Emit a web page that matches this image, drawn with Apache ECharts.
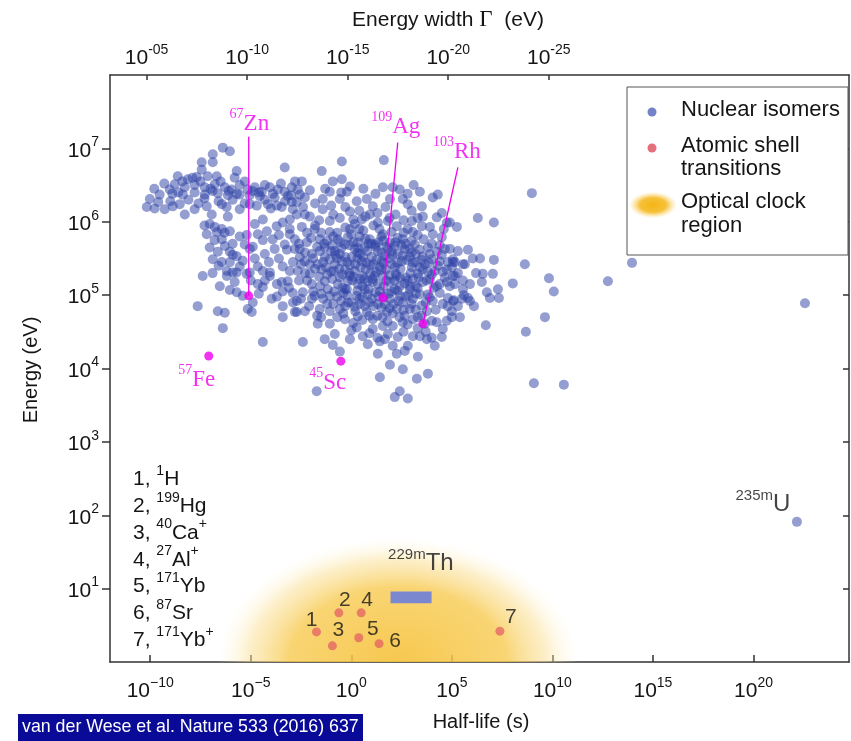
<!DOCTYPE html>
<html><head><meta charset="utf-8">
<script src="https://cdn.jsdelivr.net/npm/echarts/dist/echarts.min.js"></script>
<style>html,body{margin:0;padding:0;background:#fff}#c{width:851px;height:741px}</style>
</head><body><div id="c"></div>
<script>
// ---- data (all values are log10 of half-life in s / energy in eV) ----
const halfLifeTicks = [-10, -5, 0, 5, 10, 15, 20];
const energyTicks = [1, 2, 3, 4, 5, 6, 7];
const widthTicks = [-5, -10, -15, -20, -25];
const LOG_HBAR = -15.18; // log10(hbar in eV s): Gamma = hbar / t

const isomers = [
[-6.39,7.01],[-6.04,6.96],[-6.89,6.92],[-7.44,6.81],[-6.89,6.81],[-7.44,6.71],[-5.70,6.69],[-3.31,6.74],
[-8.63,6.62],[-8.13,6.58],[-7.69,6.61],[-7.14,6.62],[-6.69,6.62],[-8.78,6.51],[-8.28,6.47],[-7.79,6.50],
[-7.29,6.47],[-6.79,6.51],[-6.29,6.47],[-5.95,6.44],[-5.55,6.50],[-5.15,6.44],[-4.80,6.47],[-4.45,6.41],
[-4.05,6.47],[-3.66,6.44],[-3.31,6.41],[-2.96,6.47],[-2.66,6.44],[-8.38,6.37],[-7.79,6.40],[-7.29,6.37],
[-6.64,6.39],[-6.14,6.36],[-5.55,6.37],[-5.05,6.36],[-4.55,6.35],[-3.81,6.33],[-3.16,6.35],[-2.56,6.37],
[-9.03,6.44],[-9.53,6.37],[-10.02,6.31],[-10.17,6.20],[-9.78,6.18],[-9.28,6.17],[-8.88,6.21],[-8.53,6.24],
[-8.28,6.10],[-7.79,6.17],[-7.19,6.21],[-6.94,6.10],[-6.14,6.07],[-4.40,6.03],[-5.05,6.24],[-5.55,6.17],
[-6.44,6.24],[-4.15,6.24],[-3.46,6.20],[-2.96,6.27],[-7.04,5.97],[-6.79,5.93],[-7.19,5.83],[-6.69,5.86],
[-6.44,5.90],[-6.04,5.87],[-5.55,5.80],[-6.44,5.76],[-4.65,5.83],[-4.20,5.87],[-3.91,5.76],[-3.71,5.94],
[-3.41,5.99],[-3.06,5.90],[-2.71,6.10],[-2.31,6.10],[-7.04,5.65],[-6.64,5.59],[-6.29,5.67],[-6.04,5.59],
[-5.70,5.53],[-6.89,5.49],[-6.44,5.45],[-6.04,5.45],[-5.55,5.39],[-6.19,5.33],[-5.70,5.31],[-5.20,5.29],
[-4.65,5.39],[-4.40,5.33],[-4.05,5.31],[-3.41,5.39],[-3.06,5.33],[-7.39,5.26],[-5.05,5.63],[-5.30,5.69],
[-4.30,5.56],[-3.81,5.63],[-3.31,5.69],[-2.81,5.63],[-2.56,5.52],[-2.81,5.76],[-4.80,5.97],
[-6.19,5.26],[-5.90,5.31],[-6.54,5.12],[-6.04,5.07],[-5.70,5.04],[-5.40,4.99],[-5.05,5.31],[-4.65,5.15],
[-4.40,5.11],[-4.05,5.26],[-3.46,5.18],[-3.16,5.19],[-5.15,4.81],[-4.95,4.77],[-4.90,4.90],[-7.64,4.85],
[-6.64,4.78],[-6.29,4.76],[-6.39,4.55],[-3.96,4.95],[-3.41,5.05],[-2.91,5.03],[-3.41,4.85],[-3.41,4.70],
[-2.71,4.77],[-4.40,4.36],
[-0.47,6.82],[1.62,6.84],[-1.47,6.69],[-2.46,6.55],[-0.92,6.55],[-0.47,6.58],[-0.07,6.48],[-1.07,6.41],
[-2.06,6.43],[-2.71,6.27],[-2.31,6.33],[-1.42,6.31],[-0.57,6.31],[-0.22,6.41],[0.27,6.28],[0.77,6.31],
[1.07,6.21],[1.57,6.47],[2.06,6.47],[2.41,6.44],[1.92,6.31],[2.56,6.31],[2.81,6.24],[3.41,6.41],
[3.51,6.21],[4.05,6.33],[4.30,6.37],[3.56,6.07],[4.25,6.06],[4.75,5.99],[5.25,5.93],[-0.57,6.05],
[-2.06,6.07],[-1.42,6.17],[-2.91,6.17],[0.52,6.03],[0.92,6.10],[-0.07,6.14],[1.32,5.99],[2.26,5.94],
[3.06,5.86],[3.51,5.94],[4.05,5.83],[4.50,5.79],[4.90,5.63],[5.05,5.49],[-3.06,6.03],[-2.46,5.93],
[-1.82,5.90],[-1.07,5.86],[-3.06,5.83],[-2.21,5.72],[-1.57,5.76],[-0.07,5.90],[0.42,5.80],[0.92,5.76],
[1.57,5.83],[1.92,5.72],[2.56,5.76],[2.91,5.63],[3.56,5.53],[4.25,5.59],[4.75,5.35],
[-2.56,5.63],[-1.96,5.56],[-1.32,5.65],[-0.82,5.60],[-0.32,5.69],[0.17,5.63],[0.67,5.65],[1.32,5.60],
[1.82,5.63],[2.31,5.56],[3.16,5.69],[3.81,5.65],[4.40,5.46],[5.00,5.38],[-2.31,5.46],[-1.67,5.42],
[-1.07,5.49],[-0.47,5.46],[0.02,5.52],[0.52,5.46],[1.02,5.52],[1.52,5.46],[2.01,5.42],[2.51,5.46],
[3.01,5.38],[3.66,5.42],[4.15,5.33],[4.65,5.24],[5.15,5.15],[-2.66,5.33],[-2.06,5.29],[-1.47,5.35],
[-0.87,5.33],[-0.32,5.35],[0.17,5.33],[0.72,5.35],[1.22,5.31],[1.72,5.35],[2.21,5.29],[2.71,5.24],
[3.31,5.29],[3.91,5.22],[4.40,5.15],[-1.96,5.15],[-1.32,5.19],[-0.67,5.15],[-0.17,5.19],[0.32,5.15],
[0.82,5.19],[1.32,5.15],[1.92,5.18],[2.41,5.12],[2.91,5.12],[3.56,5.18],[4.25,5.12],[4.75,5.18],[5.15,5.26],
[-2.81,4.77],[-2.31,4.78],[-2.71,4.92],[-2.41,5.04],[-1.82,4.99],[-1.07,4.99],[-0.22,5.08],[0.27,4.99],
[0.82,5.01],[-0.17,4.90],[0.32,4.71],[0.77,4.77],[1.07,4.67],[0.57,4.44],[1.42,4.37],[1.67,4.40],
[2.06,4.31],[2.26,4.20],[2.66,4.24],[2.81,4.31],[3.06,4.44],[3.41,4.44],[3.76,4.40],[4.15,4.31],
[4.50,4.43],[4.55,4.54],[4.25,4.63],[4.75,4.65],[5.05,4.92],[4.55,4.88],[4.05,4.92],[3.76,4.78],
[3.06,4.67],[2.56,4.63],[2.06,4.58],[1.57,4.58],[1.07,4.54],[1.77,4.77],[2.26,4.81],[2.56,4.90],
[3.06,4.95],[3.41,5.01],[1.92,4.95],[2.41,4.99],[2.91,5.08],[1.07,5.18],[0.42,5.22],[-2.41,4.36],
[-1.67,4.61],[-1.07,4.61],[-0.92,4.32],[-0.57,4.23],[1.92,4.05],[2.56,3.99],[3.31,4.16],[3.81,3.93],
[3.26,3.86],[1.42,3.88],[-1.72,3.69],[2.41,3.69],[2.16,3.61],[2.81,3.59],[-0.07,4.40],
[1.32,4.88],[0.67,4.85],[0.17,4.84],[-0.57,4.81],[-1.07,4.78],[-1.57,4.81],[-1.96,4.95],[-0.32,4.67],
[-0.82,4.47],[-1.32,4.40],[0.27,4.56],[0.82,4.33],[1.32,4.20],[1.82,4.47],[2.31,4.43],[5.00,4.78],
[5.40,4.70],[5.50,4.95],[5.55,5.08],[5.90,5.15],[5.65,5.42],[5.15,5.45],
[-0.67,5.76],[-0.17,5.79],[0.32,5.72],[1.17,5.69],[2.16,5.67],[2.66,5.63],[-0.57,5.56],[0.42,5.56],
[1.67,5.53],[2.91,5.52],[-1.32,5.52],[-0.82,5.42],[-0.07,5.41],[0.92,5.41],[1.42,5.38],[2.16,5.38],
[3.41,5.38],[-0.57,5.24],[-0.07,5.26],[0.57,5.26],[1.57,5.26],[2.41,5.24],[3.06,5.22],[-0.32,5.08],
[0.67,5.08],[1.42,5.05],[2.16,5.08],[1.02,4.95],[1.67,4.88],[0.42,4.95],[2.91,4.81],[3.31,4.70],
[3.66,4.61],[-1.57,5.60],[-2.06,5.42],[-1.17,5.08],[3.81,5.01],[4.00,5.49],[4.65,5.63],[3.91,5.93],
[3.01,6.01],[1.82,6.01],[0.17,5.97],[-1.07,6.01],
[8.98,6.39],[6.29,6.05],[7.09,5.99],[4.90,5.99],[6.04,5.50],[7.09,5.48],[8.63,5.42],[13.96,5.44],
[8.03,5.16],[9.83,5.23],[12.76,5.19],[10.07,5.05],[22.56,4.89],[9.63,4.70],[6.69,4.59],[8.68,4.50],
[9.08,3.80],[10.57,3.78],[7.29,5.08],[7.34,4.96],[6.89,4.96],[5.90,4.92],[5.10,4.93],[5.00,4.70],
[6.54,5.29],[7.04,5.29],[6.49,5.18],[6.74,5.04],[5.80,4.96],[5.55,5.20],[5.05,5.26],[5.55,5.42],[5.05,5.45],
[22.16,1.91],
[-1.8,5.95],[-0.3,5.92],[0.6,5.88],[1.1,5.95],[2.0,5.86],[2.8,5.9],[3.3,5.82],[4.6,5.9],[-2.2,5.85],[0.0,5.83],[1.4,5.9],
[-2.0,5.78],[-1.2,5.74],[-0.9,5.8],[0.1,5.72],[0.7,5.77],[1.0,5.7],[1.6,5.74],[2.3,5.78],[3.0,5.74],[3.6,5.76],[4.0,5.7],[4.4,5.68],[-2.6,5.7],
[-2.3,5.58],[-1.7,5.66],[-1.0,5.6],[-0.5,5.64],[0.3,5.58],[0.8,5.6],[1.2,5.66],[1.5,5.58],[2.0,5.6],[2.5,5.68],[3.0,5.58],[3.4,5.62],[3.9,5.56],[4.5,5.55],[5.3,5.6],
[-2.5,5.42],[-1.9,5.5],[-1.4,5.45],[-0.7,5.5],[-0.2,5.45],[0.3,5.5],[0.75,5.44],[1.25,5.48],[1.9,5.5],[2.3,5.44],[2.75,5.48],[3.2,5.45],[3.85,5.44],[4.3,5.4],[4.8,5.45],
[-2.3,5.3],[-1.8,5.36],[-1.2,5.28],[-0.6,5.36],[-0.1,5.3],[0.45,5.38],[0.95,5.3],[1.45,5.34],[1.9,5.27],[2.45,5.36],[2.95,5.3],[3.55,5.35],[4.0,5.28],[4.55,5.32],[5.3,5.3],
[-2.2,5.2],[-1.55,5.12],[-0.95,5.22],[-0.45,5.1],[0.05,5.2],[0.55,5.12],[1.05,5.22],[1.6,5.12],[2.15,5.2],[2.65,5.16],[3.2,5.12],[3.75,5.2],[4.1,5.1],[4.9,5.12],
[-1.5,5.02],[-0.7,4.98],[-0.4,5.03],[0.55,4.97],[1.2,5.04],[1.6,4.98],[2.0,5.05],[2.7,4.98],[3.2,5.02],[3.9,4.97],[4.4,5.03],[4.8,4.96],
[-1.2,4.88],[-0.3,4.85],[0.0,4.9],[0.9,4.9],[1.5,4.83],[2.1,4.88],[2.6,4.8],[3.5,4.86],[4.2,4.8],[4.8,4.85],
[-0.7,4.7],[0.1,4.62],[0.55,4.66],[1.3,4.72],[1.8,4.64],[2.4,4.7],[2.8,4.6],[3.5,4.72],[4.0,4.65],
[0.0,4.52],[0.9,4.48],[1.3,4.42],[2.6,4.5],[3.3,4.55],[3.7,4.5],[4.0,4.42],
[-2.4,6.2],[-1.8,6.25],[-1.0,6.22],[-0.3,6.2],[0.4,6.15],[1.3,6.12],[1.7,6.2],[2.2,6.1],[3.0,6.15],[-1.6,6.02],[-0.9,6.1],[0.1,6.03],[0.7,6.07],[1.9,6.05],[2.6,6.02],[3.3,6.05],[4.5,6.12],[-1.3,6.45],[-0.5,6.4],[0.6,6.45],[1.2,6.38],[2.8,6.38],[3.1,6.5],
[-9.8,6.45],[-9.3,6.52],[-8.9,6.38],[-8.4,6.55],[-7.9,6.6],[-7.5,6.55],[-7.0,6.45],[-6.5,6.55],[-6.1,6.42],[-5.8,6.6],[-5.3,6.55],[-4.9,6.42],[-4.3,6.5],[-3.9,6.38],[-3.5,6.52],[-3.0,6.36],[-2.8,6.55],
[-9.0,6.28],[-8.1,6.3],[-7.6,6.25],[-6.6,6.28],[-6.2,6.2],[-5.9,6.3],[-5.3,6.25],[-4.7,6.22],[-4.3,6.3],[-3.7,6.22],[-3.3,6.28],[-9.6,6.27],[-8.6,6.4],[-7.3,6.32],[-6.9,6.42],[-5.7,6.38],[-4.6,6.4],[-4.0,6.18],
[-7.3,5.95],[-6.8,5.75],[-6.3,5.85],[-5.9,5.7],[-5.2,5.82],[-4.9,5.66],[-4.4,5.75],[-3.6,5.82],[-3.2,5.62],[-2.9,5.45],[-3.6,5.5],[-4.1,5.45],[-4.8,5.5],[-5.4,5.47],[-5.9,5.55],[-6.6,5.4],[-6.9,5.3],
[-5.8,5.18],[-5.0,5.2],[-4.3,5.2],[-3.7,5.15],[-3.1,5.1],[-2.6,5.2],[-2.9,4.9],[-3.7,4.98],[-4.6,5.02],
[5.8,5.62],[6.2,5.3],[5.6,5.0],[6.1,4.85],[5.3,4.85],[6.4,5.5],
[-1.35,5.7],[-0.95,5.68],[-0.55,5.72],[-0.1,5.68],[0.35,5.64],[0.85,5.7],[1.35,5.72],[1.75,5.66],[2.2,5.72],[2.7,5.7],[3.2,5.56],
[-1.25,5.38],[-0.8,5.55],[-0.3,5.52],[0.2,5.42],[0.6,5.52],[1.1,5.42],[1.6,5.44],[2.05,5.55],[2.55,5.54],[3.05,5.44],[3.5,5.48],
[-1.6,5.25],[-1.0,5.32],[-0.45,5.28],[0.1,5.25],[0.65,5.22],[1.15,5.26],[1.75,5.2],[2.25,5.26],[2.8,5.2],[3.35,5.24],[3.8,5.32],
[-1.4,4.95],[-0.85,5.05],[-0.2,5.0],[0.3,5.06],[0.85,5.08],[1.35,4.98],[1.85,5.02],[2.3,5.06],[2.85,5.0],[3.3,5.1],
[-0.9,4.88],[-0.5,4.92],[0.45,4.88],[1.1,4.85],[1.9,4.82],[2.35,4.92],[3.0,4.88],[3.7,4.9],
[-0.4,4.75],[0.2,4.78],[0.9,4.72],[1.55,4.7],[2.05,4.75],[2.65,4.72],[3.2,4.8],
[-0.7,5.85],[0.4,5.9],[1.5,5.8],[2.6,5.85],[-1.5,5.85],
[-1.9,5.05],[-2.1,4.85],[-1.7,4.72],[-2.5,4.95],[-1.5,4.7]
];

// atomic shell transitions (optical clocks), numbered 1..7
const atomNumbers = ['1','2','3','4','5','6','7'];
const atomLogT = [-1.73, -0.62, -0.94, 0.49, 0.37, 1.38, 7.39];
const atomLogE = [0.41, 0.67, 0.22, 0.67, 0.33, 0.25, 0.42];
const atomMass = ['1','199','40','27','171','87','171'];
const atomSymbol = ['H','Hg','Ca','Al','Yb','Sr','Yb'];
const atomCharge = ['','','+','+','','','+'];

// highlighted nuclei
const hlMass = ['67','109','103','57','45'];
const hlSymbol = ['Zn','Ag','Rh','Fe','Sc'];
const hlLogT = [-5.10, 1.57, 3.56, -7.09, -0.52];
const hlLogE = [4.99, 4.96, 4.61, 4.17, 4.10];
const hlLineTopLogT = [-5.10, 2.31, 5.30, null, null];
const hlLineTopLogE = [7.16, 7.08, 6.74, null, null];
const hlLabelLogT = [-5.07, 2.21, 5.25, -7.69, -1.17];
const hlLabelLogE = [7.37, 7.33, 6.99, 3.88, 3.84];

// 229mTh isomer range and optical-clock region
const thLogT = [1.95, 3.99];
const thLogE = [0.80, 0.96];
const opticalRegion = [2.3, 0.0, 9.0, 1.7]; // centre logT, centre logE, half-width, half-height (decades)

const uLabel = [20.47, 2.18];
const thLabel = [3.46, 1.37];

// ---- chart ----
const SANS = 'Liberation Sans, Arial, Helvetica, sans-serif';
const SERIF = 'Liberation Serif, Times New Roman, serif';
const INK = '#151515';
const MAG = '#ee00ee';

function supLabel(base, exp) { return '{b|' + base + '}{s|' + exp + '}'; }
const tickRich = {
  b: {fontSize: 21, fontFamily: SANS, color: INK, lineHeight: 26, verticalAlign: 'bottom'},
  s: {fontSize: 14, fontFamily: SANS, color: INK, lineHeight: 14, verticalAlign: 'top'}
};
const tMin = -12, tMax = 24.75;

const chart = echarts.init(document.getElementById('c'), null, {renderer: 'canvas'});

const atomData = atomNumbers.map((n, i) => ({value: [atomLogT[i], atomLogE[i]], name: n}));
const atomOffsets = [[-5,-12],[6,-13],[6,-16],[6,-13],[14,-9],[16,-2],[11,-14]];

const annotLines = [];
hlLineTopLogT.forEach((t, i) => {
  if (t === null) return;
  annotLines.push({
    type: 'line', xAxisIndex: 0, yAxisIndex: 0, z: 4, silent: true,
    data: [[hlLogT[i], hlLogE[i]], [t, hlLineTopLogE[i]]],
    symbol: 'none', lineStyle: {color: MAG, width: 1.3}
  });
});

const magRich = {
  s: {fontSize: 14, fontFamily: SERIF, color: MAG, lineHeight: 14, verticalAlign: 'top'},
  b: {fontSize: 23, fontFamily: SERIF, color: MAG, lineHeight: 28, verticalAlign: 'bottom'}
};
const blkRich = {
  s: {fontSize: 15, fontFamily: SANS, color: INK, lineHeight: 15, verticalAlign: 'top'},
  b: {fontSize: 24, fontFamily: SANS, color: INK, lineHeight: 28, verticalAlign: 'bottom'}
};

const labelData = hlSymbol.map((s, i) => ({
  value: [hlLabelLogT[i], hlLabelLogE[i]],
  label: {formatter: '{s|' + hlMass[i] + '}{b|' + s + '}', rich: magRich}
}));
labelData.push({value: uLabel, label: {formatter: '{s|235m}{b|U}', rich: blkRich}});
labelData.push({value: thLabel, label: {formatter: '{s|229m}{b|Th}', rich: blkRich}});

// graphic: list of clocks, legend, titles, footer
const graphics = [];
atomNumbers.forEach((n, i) => {
  graphics.push({
    type: 'text', left: 133, top: 464 + i * 26.8, z: 10,
    style: {
      text: '{n|' + n + ', }{s|' + atomMass[i] + '}{n|' + atomSymbol[i] + '}{s|' + atomCharge[i] + '}',
      rich: {
        n: {fontSize: 21, fontFamily: SANS, fill: INK, lineHeight: 26, verticalAlign: 'bottom'},
        s: {fontSize: 14, fontFamily: SANS, fill: INK, lineHeight: 14, verticalAlign: 'top'}
      }
    }
  });
});
// legend box
graphics.push({type: 'rect', shape: {x: 627, y: 87, width: 221, height: 168}, style: {fill: '#fff', stroke: '#555', lineWidth: 1}, z: 20});
graphics.push({type: 'circle', shape: {cx: 652, cy: 112, r: 4.5}, style: {fill: 'rgba(70,90,180,0.75)'}, z: 21});
graphics.push({type: 'circle', shape: {cx: 652, cy: 148, r: 4.5}, style: {fill: 'rgba(225,85,100,0.85)'}, z: 21});
graphics.push({type: 'circle', shape: {cx: 0, cy: 0, r: 24}, x: 653, y: 205, scaleY: 0.55,
  style: {fill: new echarts.graphic.RadialGradient(0.5, 0.5, 0.5, [
    {offset: 0, color: 'rgba(244,180,20,1)'}, {offset: 0.55, color: 'rgba(245,186,35,0.9)'}, {offset: 1, color: 'rgba(250,215,120,0)'}])}, z: 21});
const legTxt = (t, y) => ({type: 'text', left: 681, top: y, z: 21, style: {text: t, fontSize: 22, fontFamily: SANS, fill: INK}});
graphics.push(legTxt('Nuclear isomers', 99));
graphics.push(legTxt('Atomic shell', 135));
graphics.push(legTxt('transitions', 158));
graphics.push(legTxt('Optical clock', 191));
graphics.push(legTxt('region', 215));
// titles
graphics.push({type: 'text', x: 448, y: 20, z: 10, style: {
  text: '{n|Energy width }{g|Γ}{n|  (eV)}', align: 'center', verticalAlign: 'middle',
  rich: {n: {fontSize: 21, fontFamily: SANS, fill: INK}, g: {fontSize: 23, fontFamily: SERIF, fill: INK}}}});
graphics.push({type: 'text', x: 481, y: 722, z: 10, style: {text: 'Half-life (s)', align: 'center', verticalAlign: 'middle', fontSize: 20, fontFamily: SANS, fill: INK}});
graphics.push({type: 'text', x: 31, y: 370, rotation: Math.PI / 2, z: 10, style: {text: 'Energy (eV)', align: 'center', verticalAlign: 'middle', fontSize: 20, fontFamily: SANS, fill: INK}});
// footer
graphics.push({type: 'rect', shape: {x: 18, y: 714, width: 345, height: 27}, style: {fill: '#0a0a98'}, z: 10});
graphics.push({type: 'text', x: 22, y: 727.5, z: 11, style: {text: 'van der Wese et al. Nature 533 (2016) 637', verticalAlign: 'middle', fontSize: 17.8, fontFamily: SANS, fill: '#fff'}});

const axisLineStyle = {color: '#333', width: 1.5};

const option = {
  animation: false,
  backgroundColor: '#fff',
  grid: {left: 110, right: 2, top: 75, bottom: 79, containLabel: false},
  xAxis: [
    {type: 'value', position: 'bottom', min: tMin, max: tMax,
     axisLine: {show: true, onZero: false, lineStyle: axisLineStyle},
     axisTick: {show: true, inside: true, length: 7, customValues: halfLifeTicks, lineStyle: {color: '#333', width: 1.5}},
     axisLabel: {customValues: halfLifeTicks, margin: 14, formatter: v => supLabel('10', v < 0 ? '\u2212' + (-v) : String(v)), rich: tickRich},
     splitLine: {show: false}},
    {type: 'value', position: 'top', inverse: true, min: LOG_HBAR - tMax, max: LOG_HBAR - tMin,
     axisLine: {show: true, onZero: false, lineStyle: axisLineStyle},
     axisTick: {show: true, inside: true, length: 5, customValues: widthTicks, lineStyle: {color: '#333', width: 1.5}},
     axisLabel: {customValues: widthTicks, margin: 6, formatter: v => supLabel('10', '-' + String(-v).padStart(2, '0')), rich: tickRich},
     splitLine: {show: false}}
  ],
  yAxis: [
    {type: 'value', position: 'left', min: 0, max: 8,
     axisLine: {show: true, onZero: false, lineStyle: axisLineStyle},
     axisTick: {show: true, inside: false, length: 8, customValues: energyTicks, lineStyle: {color: '#333', width: 1.5}},
     axisLabel: {customValues: energyTicks, margin: 11, formatter: v => supLabel('10', String(v)), rich: tickRich},
     splitLine: {show: false}},
    {type: 'value', position: 'right', min: 0, max: 8,
     axisLine: {show: true, onZero: false, lineStyle: axisLineStyle},
     axisTick: {show: true, inside: true, length: 6, customValues: energyTicks, lineStyle: {color: '#333', width: 1.5}},
     axisLabel: {show: false},
     splitLine: {show: false}}
  ],
  graphic: graphics,
  series: [
    {type: 'custom', name: 'Optical clock region', xAxisIndex: 0, yAxisIndex: 0, z: 1, clip: true, silent: true,
     data: [opticalRegion], encode: {x: 0, y: 1},
     renderItem: function (params, api) {
       const c = api.coord([api.value(0), api.value(1)]);
       const e = api.coord([api.value(0) + api.value(2), api.value(1) + api.value(3)]);
       const rx = Math.abs(e[0] - c[0]), ry = Math.abs(e[1] - c[1]);
       return {type: 'circle', x: c[0], y: c[1], scaleY: ry / rx, shape: {cx: 0, cy: 0, r: rx},
         style: {fill: new echarts.graphic.RadialGradient(0.5, 0.5, 0.5, [
           {offset: 0, color: 'rgba(246,194,60,0.9)'},
           {offset: 0.6, color: 'rgba(247,202,80,0.8)'},
           {offset: 0.82, color: 'rgba(250,222,145,0.5)'},
           {offset: 1, color: 'rgba(255,248,225,0)'}])}};
     }},
    {type: 'scatter', name: 'Nuclear isomers', xAxisIndex: 0, yAxisIndex: 0, z: 2, silent: true,
     data: isomers, symbolSize: 10, itemStyle: {color: 'rgba(45,65,165,0.64)'}},
    {type: 'custom', name: '229mTh', xAxisIndex: 0, yAxisIndex: 0, z: 3, silent: true,
     data: [[thLogT[0], thLogT[1], thLogE[0], thLogE[1]]], encode: {x: [0, 1], y: [2, 3]},
     renderItem: function (params, api) {
       const p1 = api.coord([api.value(0), api.value(3)]);
       const p2 = api.coord([api.value(1), api.value(2)]);
       return {type: 'rect', shape: {x: p1[0], y: p1[1], width: p2[0] - p1[0], height: p2[1] - p1[1]},
         style: {fill: '#7b87cf'}};
     }},
    {type: 'scatter', name: 'Atomic shell transitions', xAxisIndex: 0, yAxisIndex: 0, z: 3, silent: true,
     data: atomData.map((d, i) => Object.assign({}, d, {label: {offset: atomOffsets[i]}})),
     symbolSize: 9, itemStyle: {color: 'rgba(225,85,100,0.85)'},
     label: {show: true, position: 'inside', formatter: p => p.name, fontSize: 21, fontFamily: SANS, color: INK}},
    ...annotLines,
    {type: 'scatter', name: 'highlight', xAxisIndex: 0, yAxisIndex: 0, z: 4, silent: true,
     data: hlLogT.map((t, i) => [t, hlLogE[i]]), symbolSize: 9, itemStyle: {color: MAG}},
    {type: 'scatter', name: 'labels', xAxisIndex: 0, yAxisIndex: 0, z: 5, silent: true,
     data: labelData, symbolSize: 0, itemStyle: {color: 'rgba(0,0,0,0)'},
     label: {show: true, position: 'inside'}}
  ]
};
chart.setOption(option);
</script></body></html>
